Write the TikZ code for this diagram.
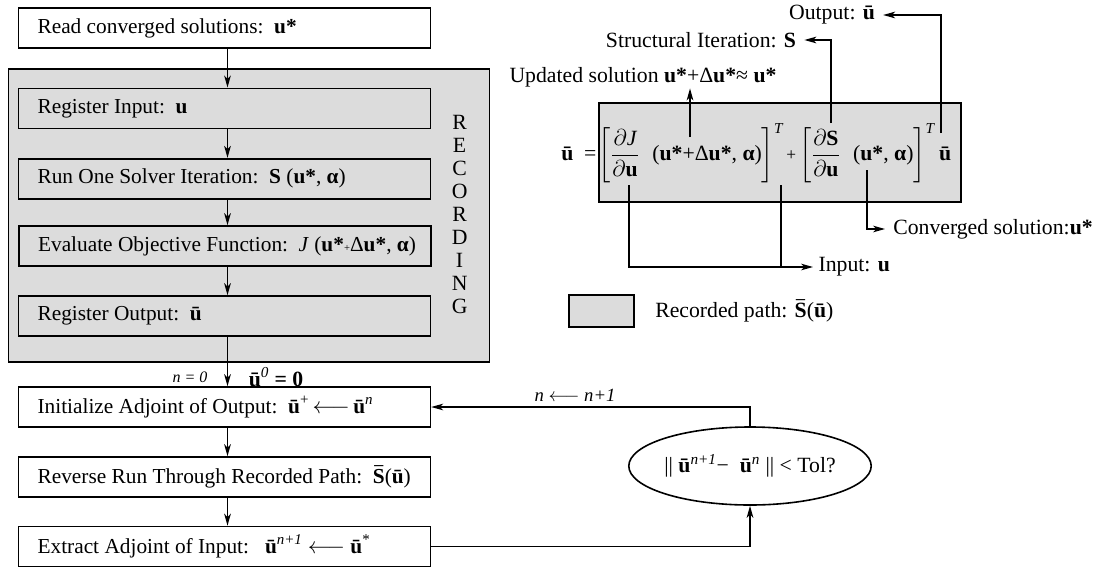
\documentclass[tikz,border=0pt]{standalone}
\usepackage{amsmath}
\usepackage{fontspec}
\setmainfont{Liberation Serif}
\usetikzlibrary{arrows.meta,shapes.geometric}
\definecolor{recgray}{RGB}{220,220,220}
\newcommand\bxt[1]{\makebox[280.4pt][l]{#1}}
\newcommand\Sbar{{\boldmath$\bar{\text{\textbf{S}}}$}}
\begin{document}
\begin{tikzpicture}[x=0.75pt,y=-0.75pt,
  every node/.style={font=\fontsize{16.3}{19}\selectfont},
  stepbox/.style={draw, line width=1.2pt, fill=white, minimum width=308.85pt, minimum height=30pt,
    inner xsep=14.2pt, font=\fontsize{16}{19}\selectfont},
  recbox/.style={stepbox, fill=recgray},
  conn/.style={line width=1pt, -{Stealth[length=9pt,width=5pt,inset=2.5pt]}},
  plainline/.style={line width=1pt},
  lbl/.style={inner xsep=6pt, inner ysep=1pt},
  smalllbl/.style={font=\fontsize{12}{14}\selectfont}]
\useasboundingbox (0,0) rectangle (1102,567);

% recording region
\draw[line width=1.2pt, fill=recgray] (8.6,69) rectangle (489.3,361.7);
\node[font=\fontsize{16.3}{17.2}\selectfont, align=center] (recl) at (459.6,214.5) {R\\E\\C\\O\\R\\D\\I\\N\\G};

% left column
\node[stepbox] (b1) at (224.5,28.3) {\bxt{Read converged solutions:\ \ \textbf{u*}}};
\node[recbox] (b2) at (224.5,108.3) {\bxt{Register Input:\ \ \textbf{u}}};
\node[recbox] (b3) at (224.5,178.7) {\bxt{Run One Solver Iteration:\ \ \textbf{S} (\textbf{u*}, \textbf{α})}};
\node[recbox] (b4) at (225,246) {\bxt{Evaluate Objective Function:\ \ \textit{J} (\textbf{u*}{\footnotesize +}Δ\textbf{u*}, \textbf{α})}};
\node[recbox] (b5) at (224.5,316) {\bxt{Register Output:\ \ \textbf{ū}}};
\node[stepbox] (b6) at (224.5,407) {\bxt{Initialize Adjoint of Output:\ \ \textbf{ū}\textsuperscript{+}\,$\longleftarrow$\,\textbf{ū}\textsuperscript{\textit{n}}}};
\node[stepbox] (b7) at (224.5,477) {\bxt{Reverse Run Through Recorded Path:\ \ \Sbar(\textbf{ū})}};
\node[stepbox] (b8) at (224.5,546.5) {\bxt{Extract Adjoint of Input:\ \ \ \textbf{ū}\textsuperscript{\textit{n+1}}\ $\longleftarrow$\ \textbf{ū}\textsuperscript{*}}};

\coordinate (ax) at (227.5,0);
\draw[conn] (b1.south -| ax) -- (b2.north -| ax);
\draw[conn] (b2.south -| ax) -- (b3.north -| ax);
\draw[conn] (b3.south -| ax) -- (b4.north -| ax);
\draw[conn] (b4.south -| ax) -- (b5.north -| ax);
\draw[conn] (b5.south -| ax) -- (b6.north -| ax);
\draw[conn] (b6.south -| ax) -- (b7.north -| ax);
\draw[conn] (b7.south -| ax) -- (b8.north -| ax);

\node[smalllbl] (n0) at (190,377) {\textit{n = 0}};
\node (u0) at (276,377) {\textbf{ū}\textsuperscript{\textit{0}} \textbf{= 0}};

% convergence check
\node[ellipse, draw, line width=1.2pt, minimum width=177pt, minimum height=58.5pt, inner sep=0pt] (chk) at (750,466)
  {\textbar\textbar\ \textbf{ū}\textsuperscript{\textit{n+1}}−\ \ \textbf{ū}\textsuperscript{\textit{n}} \textbar\textbar\ < Tol?};
\draw[conn] (chk.north) |- (b6.east);
\draw[conn] (b8.east) -| (chk.south);
\node[font=\fontsize{14}{16}\selectfont] (nl) at (575,395) {\textit{n} $\longleftarrow$ \textit{n+1}};

% equation
\node[draw, fill=recgray, line width=1.2pt, minimum width=271.5pt, minimum height=74.25pt] (eqbox) at (780,152.5) {};
\node[anchor=west, inner sep=0pt] (eq) at (561,153)
  {\textbf{ū}\hspace{0.5em}=\hspace{0.1em}$\left[\dfrac{\partial \textit{J}}{\partial\textbf{u}}\hspace{0.6em}\text{(\textbf{u*}+Δ\textbf{u*}, \textbf{α})}\right]^{\textit{T}}$\hspace{0.15em}{\fontsize{13}{15}\selectfont +}\hspace{0.15em}$\left[\dfrac{\partial\textbf{S}}{\partial\textbf{u}}\hspace{0.6em}\text{(\textbf{u*}, \textbf{α})}\right]^{\textit{T}}$\hspace{0.2em}\textbf{ū}};

\node[lbl] (outl) at (832,15) {Output: \textbf{ū}};
\node[lbl] (strl) at (701,40) {Structural Iteration: \textbf{S}};
\node[lbl] (updl) at (643,77) {Updated solution \textbf{u*}+Δ\textbf{u*}≈ \textbf{u*}};
\node[lbl, anchor=west] (conv) at (885,229) {Converged solution:\textbf{u*}};
\node[lbl, anchor=west, inner xsep=4pt] (inp) at (813,267) {Input: \textbf{u}};

\coordinate (pU) at (690,137);
\coordinate (pS) at (831,123);
\coordinate (pO) at (941,133);
\coordinate (pJ) at (629,185);
\coordinate (pB) at (781,185);
\coordinate (pC) at (867,170);
\draw[conn] (pU) -- (pU |- updl.south);
\draw[conn] (pS) |- (strl.east);
\draw[conn] (pO) |- (outl.east);
\draw[conn] (pJ) |- (inp.west);
\draw[plainline] (pB) -- (pB |- inp.west);
\draw[conn] (pC) |- (conv.west);

% legend
\node[draw, fill=recgray, line width=1.2pt, minimum width=48.75pt, minimum height=24pt] (leg) at (601.5,311) {};
\node[anchor=west, inner sep=0pt] (legt) at (655,311) {Recorded path: \Sbar(\textbf{ū})};
\end{tikzpicture}
\end{document}
